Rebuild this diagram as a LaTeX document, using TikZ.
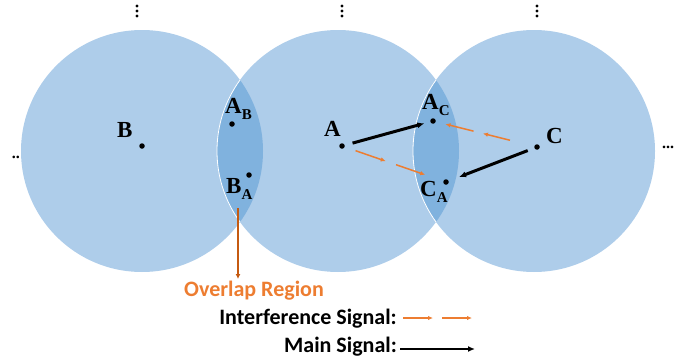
\documentclass[tikz,border=0pt]{standalone}
\usepackage{fontspec}
\setmainfont{Liberation Serif}
\newfontfamily\legendfont{Carlito}
\usetikzlibrary{arrows.meta,calc}

\definecolor{cellblue}{RGB}{174,205,234}
\definecolor{lensblue}{RGB}{128,178,222}
\definecolor{sigorange}{RGB}{237,125,49}
\definecolor{regbrown}{RGB}{197,90,17}

\newcommand\lblsub[1]{\raisebox{-6.5pt}{\fontsize{15}{15}\selectfont #1}}

\begin{document}
\begin{tikzpicture}[x=1pt,y=-1pt,
  dot/.style={circle, fill=black, inner sep=0pt, minimum size=5.5pt},
  letter/.style={font=\fontsize{23}{23}\selectfont\bfseries, inner sep=0pt, anchor=base west},
  mainsig/.style={-{Latex[length=7pt,width=6pt]}, line width=3pt},
  intsig/.style={-{Latex[length=5pt,width=4.5pt]}, line width=1.5pt, sigorange},
  legend/.style={font=\legendfont\fontsize{22}{22}\selectfont\bfseries, inner sep=0pt, anchor=base east},
  more/.style={font=\fontsize{16}{16}\selectfont\bfseries, inner sep=0pt}]

\useasboundingbox (0,0) rectangle (691,364);

% Sizes
\def\rad{121pt}

% Cells
\foreach \name/\x in {one/142, two/338, three/534} {
  \coordinate (\name) at (\x,151);
  \fill[cellblue] (\name) circle[radius=\rad];
}

% Overlap regions
\foreach \lc/\rc in {one/two, two/three} {
  \begin{scope}
    \clip (\lc) circle[radius=\rad];
    \fill[lensblue] (\rc) circle[radius=\rad];
    \draw[white, line width=0.8pt] (\rc) circle[radius=\rad];
  \end{scope}
}

% Stations
\foreach \name/\x/\y in {B/142/146, A/342/146, C/537/147, AB/232/124, BA/249/175, AC/433/121, CA/446/182} {
  \node[dot] (\name) at (\x,\y) {};
}

% Station labels
\node[letter] (Blbl) at (117,137) {B};
\node[letter] (Albl) at (324,136) {A};
\node[letter] (Clbl) at (546,143) {C};
\node[letter] (ABlbl) at (225,113) {A\lblsub{B}};
\node[letter] (BAlbl) at (226,193) {B\lblsub{A}};
\node[letter] (AClbl) at (422,109) {A\lblsub{C}};
\node[letter] (CAlbl) at (420,196) {C\lblsub{A}};

% Main signals
\draw[mainsig, shorten <=8pt, shorten >=6pt] (A) -- (AC);
\draw[mainsig, shorten <=7pt, shorten >=11pt] (C) -- (CA);

% Interference signals
\foreach \from/\to/\ta/\tb in {A/CA/0.13/0.42, A/CA/0.52/0.80, C/AC/0.26/0.52, C/AC/0.61/0.88} {
  \draw[intsig] ($(\from)!\ta!(\to)$) -- ($(\from)!\tb!(\to)$);
}

% More cells around
\foreach \x in {137, 342, 537} {
  \foreach \y in {6, 11, 16} {
    \fill (\x,\y) circle[radius=1.6pt];
  }
}
\node[more] (ldots) at (16,157) {..};
\node[more] (rdots) at (668,147) {...};

% Overlap region
\coordinate (lens) at (238,208);
\node[legend, anchor=base west, sigorange] (overlap) at (184,296) {Overlap Region};
\draw[-{Latex[length=5pt,width=5pt]}, regbrown, line width=2.5pt] (lens) -- (lens |- 0,279);

% Legend
\node[legend] (intlbl) at (397,324) {Interference Signal:};
\node[legend] (mainlbl) at (397,352) {Main Signal:};
\coordinate (int1) at (403,318);
\coordinate (int2) at (442,318);
\coordinate (mainsample) at (400,349);
\draw[intsig] (int1) -- ++(30,0);
\draw[intsig] (int2) -- ++(30,0);
\draw[mainsig, line width=2.5pt] (mainsample) -- ++(75,0);

\end{tikzpicture}
\end{document}
